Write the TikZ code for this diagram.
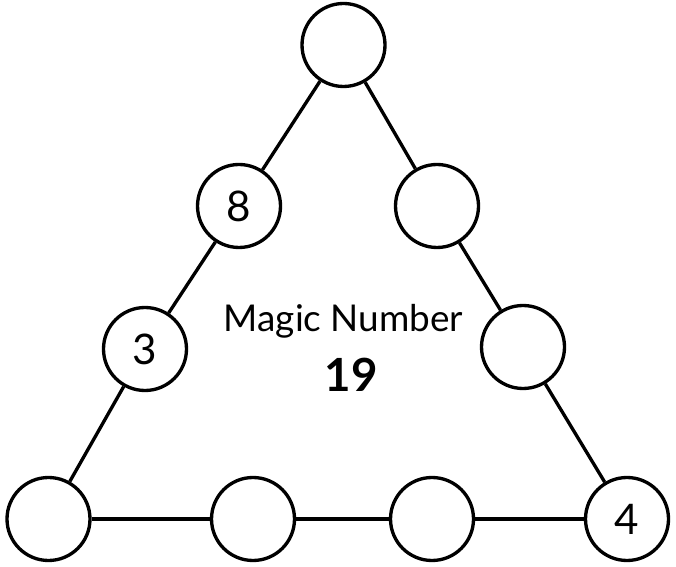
\documentclass[tikz,border=0pt]{standalone}
\usepackage{fontspec}
\setmainfont{Lato}
\usetikzlibrary{positioning}

\begin{document}
\begin{tikzpicture}[spot/.style={circle, draw, line width=1.9pt, minimum size=1.66cm, inner sep=0pt,
                                 font=\fontsize{24}{26}\selectfont}]
      \useasboundingbox (0,0) rectangle (13.52,11.32);

      % Nodes
      \node[spot] (top) at (6.87, 10.42) {};
      \node[spot] (l1) at (4.78, 7.20) {8};
      \node[spot] (r1) at (8.74, 7.20) {};
      \node[spot] (l2) at (2.90, 4.34) {3};
      \node[spot] (r2) at (10.46, 4.38) {};
      \node[spot] (b1) at (0.97, 0.94) {};
      \node[spot] (b2) at (5.06, 0.94) {};
      \node[spot] (b3) at (8.64, 0.94) {};
      \node[spot] (b4) at (12.54, 0.94) {4};

      \node[anchor=base, font=\fontsize{21}{24}\selectfont] (magic) at (6.87, 4.68) {Magic Number};
      \node[anchor=base, font=\fontsize{26}{28}\selectfont\bfseries] (num) at (7.02, 3.48) {19};

      % Edges
      \path[line width=1.9pt] (top) edge (l1)
                                    edge (r1)
                              (l1) edge (l2)
                              (l2) edge (b1)
                              (r1) edge (r2)
                              (r2) edge (b4)
                              (b1) edge (b2)
                              (b2) edge (b3)
                              (b3) edge (b4);

\end{tikzpicture}
\end{document}
